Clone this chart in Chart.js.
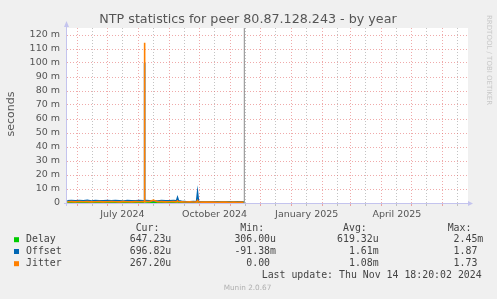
<!DOCTYPE html>
<html>
<head>
<meta charset="utf-8">
<script src="https://cdn.jsdelivr.net/npm/chart.js@4"></script>
<style>
  html, body { margin: 0; padding: 0; background: #f0f0f0; }
  canvas { display: block; }
</style>
</head>
<body>
<canvas id="ntpChart" width="497" height="299"></canvas>
<script>
// x values are days counted from 2024-01-01, y values in milliseconds
const days = [142,146,150,154,158,162,166,170,174,178,182,186,190,194,198,202,206,210,214,218,218.6,219,219.4,220,224,228,232,236,240,244,248,251,252,253,256,260,264,268,271,272,273,276,280,284,288,292,296,300,304,308,312,316,318];
const delay  = [0.62,0.58,0.65,0.60,0.71,0.55,0.63,0.59,0.66,0.61,0.64,0.57,0.70,0.62,0.60,0.58,0.66,0.63,0.61,0.65,0.9,1.8,0.9,0.70,0.60,0.62,0.58,0.64,0.61,0.59,0.63,0.60,0.9,0.62,0.58,0.61,0.60,0.63,0.59,1.2,0.62,0.60,0.58,0.61,0.64,0.60,0.59,0.62,0.60,0.63,0.61,0.65,0.65];
const offset = [1.6,1.8,1.5,1.7,1.6,1.9,1.4,1.7,1.5,1.6,1.8,1.5,1.7,1.6,1.4,1.7,1.6,1.5,1.8,1.6,1.6,100,1.7,1.7,1.5,1.6,1.4,1.7,1.5,1.6,1.7,1.5,3.8,1.6,1.2,1.0,0.9,1.1,0.8,7.4,1.0,0.7,0.6,0.7,0.8,0.6,0.7,0.7,0.6,0.7,0.7,0.8,0.7];
const jitter = [0.9,1.0,0.8,1.1,0.9,1.0,0.8,0.9,1.0,0.8,0.9,1.1,0.9,0.8,1.0,0.9,0.8,1.0,0.9,1.0,1.0,114.5,1.0,1.2,1.0,2.0,0.9,1.0,0.8,0.9,1.0,0.8,1.5,0.9,0.8,0.7,0.8,0.7,0.6,1.8,0.7,0.6,0.6,0.7,0.6,0.5,0.6,0.6,0.5,0.6,0.5,0.6,0.5];
const nowDay = 318.7;

const monthStarts = [152,182,213,244,274,305,335,366,397,425,456,486,517];
const midMonths = [167,197,228,259,289,320,350,381,412,440,471,501,532];
const labelDays = [197,289,381,471];
const labelText = ['July 2024','October 2024','January 2025','April 2025'];

const legendNames = ['Delay','Offset','Jitter'];
const legendColors = ['#00cc00','#0066b3','#ff8000'];
const curVals = ['647.23u','696.82u','267.20u'];
const minVals = ['306.00u','-91.38m','0.00'];
const avgVals = ['619.32u','1.61m','1.08m'];
const maxVals = ['2.45m','1.87','1.73'];

const xMin = 141.7, xMax = 542;
const redGrid = 'rgba(225,100,100,0.55)';
const greyGrid = 'rgba(180,180,180,0.8)';
const axisCol = '#c4c4ee';

const toPoints = ys => days.map((d, i) => ({ x: d, y: ys[i] }));

const munin = {
  id: 'munin',
  beforeDraw(chart) {
    const c = chart.ctx, a = chart.chartArea;
    c.save();
    c.fillStyle = '#f0f0f0';
    c.fillRect(0, 0, chart.width, chart.height);
    c.fillStyle = '#ffffff';
    c.fillRect(a.left, a.top, a.right - a.left, a.bottom - a.top);
    c.restore();
  },
  afterDraw(chart) {
    const c = chart.ctx, a = chart.chartArea;
    c.save();
    // axes with arrows
    c.strokeStyle = axisCol;
    c.lineWidth = 1;
    c.beginPath();
    c.moveTo(a.left - 0.5, a.bottom + 3);
    c.lineTo(a.left - 0.5, a.top - 3);
    c.moveTo(a.left - 3, a.bottom + 0.5);
    c.lineTo(a.right + 2, a.bottom + 0.5);
    c.stroke();
    c.fillStyle = axisCol;
    c.beginPath();
    c.moveTo(a.left - 3, a.top - 1);
    c.lineTo(a.left + 2, a.top - 1);
    c.lineTo(a.left - 0.5, a.top - 7);
    c.closePath();
    c.fill();
    c.beginPath();
    c.moveTo(a.right, a.bottom - 2);
    c.lineTo(a.right, a.bottom + 3);
    c.lineTo(a.right + 5, a.bottom + 0.5);
    c.closePath();
    c.fill();

    // title
    c.fillStyle = '#555';
    c.textAlign = 'center';
    c.textBaseline = 'middle';
    c.font = '12.7px "DejaVu Sans"';
    c.fillText('NTP statistics for peer 80.87.128.243 - by year', 248, 19.5);

    // y axis title
    c.save();
    c.translate(11, 114);
    c.rotate(-Math.PI / 2);
    c.font = '11px "DejaVu Sans"';
    c.fillText('seconds', 0, 0);
    c.restore();

    // side watermark
    c.save();
    c.translate(489, 15);
    c.rotate(Math.PI / 2);
    c.textAlign = 'left';
    c.fillStyle = '#c8c8c8';
    c.font = '7px "DejaVu Sans"';
    c.fillText('RRDTOOL / TOBI OETIKER', 0, 0);
    c.restore();

    // legend
    c.font = '9.9px "DejaVu Sans Mono"';
    c.fillStyle = '#444';
    const cw = c.measureText('0').width;
    const rightOf = [171.3, 276, 378.7, 483.3];
    const heads = ['Cur:', 'Min:', 'Avg:', 'Max:'];
    c.textAlign = 'right';
    heads.forEach((h, k) => c.fillText(h, rightOf[k] - 2 * cw, 228));
    const cols = [curVals, minVals, avgVals, maxVals];
    const rowY = [239.7, 251.5, 263.7];
    legendNames.forEach((name, i) => {
      c.fillStyle = legendColors[i];
      c.fillRect(14, rowY[i] - 2.5, 5, 5);
      c.fillStyle = '#444';
      c.textAlign = 'left';
      c.fillText(name, 26, rowY[i]);
      c.textAlign = 'right';
      cols.forEach((col, k) => {
        const v = col[i];
        const shift = /[0-9]$/.test(v) ? cw : 0;
        c.fillText(v, rightOf[k] - shift, rowY[i]);
      });
    });
    c.textAlign = 'left';
    c.fillText('Last update: Thu Nov 14 18:20:02 2024', 261.7, 275.7);

    c.textAlign = 'center';
    c.fillStyle = '#b0b0b0';
    c.font = '7.3px "DejaVu Sans"';
    c.fillText('Munin 2.0.67', 247.5, 287.7);
    c.restore();
  }
};

new Chart(document.getElementById('ntpChart'), {
  type: 'line',
  data: {
    datasets: [
      { label: 'Delay', data: toPoints(delay), borderColor: legendColors[0], borderWidth: 1.6, pointRadius: 0, tension: 0, order: 2 },
      { label: 'Offset', data: toPoints(offset), borderColor: legendColors[1], borderWidth: 1.6, pointRadius: 0, tension: 0, order: 1 },
      { label: 'Jitter', data: toPoints(jitter), borderColor: legendColors[2], borderWidth: 1.6, pointRadius: 0, tension: 0, order: 0 },
      { label: 'now', data: [{ x: nowDay, y: 0 }, { x: nowDay, y: 125 }], borderColor: '#8a8a8a', borderWidth: 1, pointRadius: 0, order: 3 }
    ]
  },
  options: {
    responsive: false,
    animation: false,
    layout: { padding: { left: 0, top: 28, right: 29, bottom: 76 } },
    plugins: { legend: { display: false }, tooltip: { enabled: false } },
    scales: {
      x: {
        type: 'linear',
        min: xMin,
        max: xMax,
        afterBuildTicks: s => {
          s.ticks = monthStarts.concat(midMonths)
            .filter(v => v >= xMin && v <= xMax)
            .sort((p, q) => p - q)
            .map(v => ({ value: v }));
        },
        afterFit: s => { s.height = 20; },
        ticks: {
          autoSkip: false,
          maxRotation: 0,
          padding: 3,
          color: '#555',
          font: { family: 'DejaVu Sans', size: 9.5 },
          callback: v => {
            const i = labelDays.indexOf(v);
            return i >= 0 ? labelText[i] : '';
          }
        },
        grid: {
          color: c => (c.tick && monthStarts.includes(c.tick.value)) ? redGrid : greyGrid,
          tickLength: 3
        },
        border: { display: false, dash: [1, 2] }
      },
      y: {
        min: 0,
        max: 125,
        afterFit: s => { s.width = 67; },
        ticks: {
          stepSize: 5,
          padding: 7,
          color: '#555',
          font: { family: 'DejaVu Sans', size: 9.5 },
          callback: v => v === 0 ? '0' : (v % 10 === 0 ? v + ' m' : '')
        },
        grid: {
          color: c => (c.tick && c.tick.value % 10 === 0 && c.tick.value > 0) ? redGrid : greyGrid,
          drawTicks: false
        },
        border: { display: false, dash: [1, 2] }
      }
    }
  },
  plugins: [munin]
});
</script>
</body>
</html>
